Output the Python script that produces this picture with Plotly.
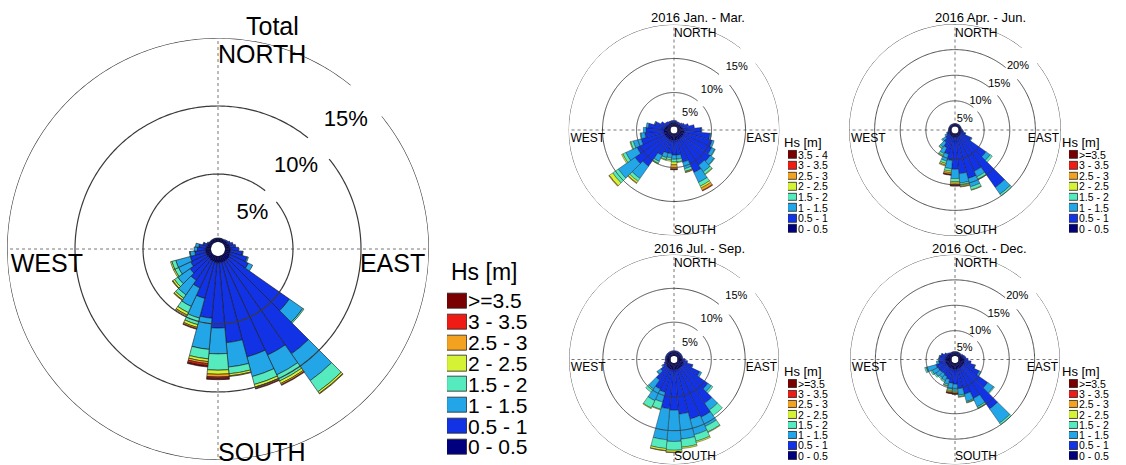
import numpy as np
import plotly.graph_objects as go

W, H = 1126, 465

# ---------------- data ----------------
DIRECTIONS = list(range(0, 360, 10))  # compass degrees, 10-degree sectors
HS_LABELS = ["0 - 0.5", "0.5 - 1", "1 - 1.5", "1.5 - 2", "2 - 2.5", "2.5 - 3", "3 - 3.5", ">=3.5"]
HS_LABELS_Q1 = ["0 - 0.5", "0.5 - 1", "1 - 1.5", "1.5 - 2", "2 - 2.5", "2.5 - 3", "3 - 3.5", "3.5 - 4"]
HS_COLORS = ["#00007F", "#1232E6", "#22A6E8", "#55EBBE", "#D6F234", "#F2A21E", "#EE1C14", "#7A0000"]

RINGS_15 = [5, 10, 15]
RINGS_20 = [5, 10, 15, 20]

# Total (percent of occurrence per 10-degree direction sector, per Hs class)
total_00_05 = [.25, .25, .25, .25, .25, .3, .3, .35, .35, .4, .4, .4, .45, .5, .5, .5, .5, .5, .5, .5, .45, .45, .4, .4, .4, .4, .4, .4, .35, .3, .3, .25, .25, .25, .25, .25]
total_05_10 = [.05, .05, .05, .05, .1, .1, .2, .3, .45, .6, .9, 1.3, 1.5, 5.4, 8.4, 7.6, 7.2, 5.9, 4.8, 4.1, 2.8, 2.2, 1.9, 1.6, 1.3, 1.2, .8, .6, .55, .3, .1, .05, .05, .05, .05, .05]
total_10_15 = [0, 0, 0, 0, 0, 0, 0, 0, 0, 0, .05, .1, .35, 1.2, 2.4, 1.6, 1.5, 1.8, 1.9, 2.3, 1.5, 1.5, 1.3, 1.1, 1.0, 1.1, .35, .25, .25, .05, 0, 0, 0, 0, 0, 0]
total_15_20 = [0, 0, 0, 0, 0, 0, 0, 0, 0, 0, 0, 0, 0, .1, 1.0, .5, .6, .5, 1.2, .7, .5, .5, .3, .3, .3, .3, .05, 0, 0, 0, 0, 0, 0, 0, 0, 0]
total_20_25 = [0, 0, 0, 0, 0, 0, 0, 0, 0, 0, 0, 0, 0, 0, .15, .2, .2, .15, .3, .2, .2, .2, .15, .15, .1, .1, 0, 0, 0, 0, 0, 0, 0, 0, 0, 0]
total_25_30 = [0, 0, 0, 0, 0, 0, 0, 0, 0, 0, 0, 0, 0, 0, .05, .1, .1, .05, .2, .15, .1, .1, .05, .05, 0, 0, 0, 0, 0, 0, 0, 0, 0, 0, 0, 0]
total_30_35 = [0, 0, 0, 0, 0, 0, 0, 0, 0, 0, 0, 0, 0, 0, 0, .05, .05, 0, .1, .15, .05, 0, 0, 0, 0, 0, 0, 0, 0, 0, 0, 0, 0, 0, 0, 0]
total_35_up = [0, 0, 0, 0, 0, 0, 0, 0, 0, 0, 0, 0, 0, 0, 0, 0, 0, 0, .1, .1, 0, 0, 0, 0, 0, 0, 0, 0, 0, 0, 0, 0, 0, 0, 0, 0]

# 2016 Jan. - Mar.
q1_00_05 = [.6, .6, .5, .5, .5, .6, .6, .7, .8, .9, 1, 1, 1, 1, 1, 1, 1, 1, 1, 1, 1, 1, 1, 1, 1, 1, 1, 1, .9, .8, .7, .6, .6, .6, .6, .6]
q1_05_10 = [.3, .3, .3, .3, .3, .4, .6, 1.0, 1.7, 2.6, 3.8, 4.3, 4.6, 5.0, 4.8, 5.4, 3.4, 2.2, 2.2, 2.0, 2.0, 2.6, 5.0, 5.5, 4.5, 3.5, 2.8, 2.6, 2.4, 1.6, .9, .5, .4, .3, .3, .3]
q1_10_15 = [0, 0, 0, 0, 0, 0, 0, 0, 0, .1, .2, .3, .5, .7, 1.2, 1.6, 1.0, .6, .6, .6, .7, 1.0, 2.2, 3.0, 1.8, 1.2, .6, .4, .3, .1, 0, 0, 0, 0, 0, 0]
q1_15_20 = [0, 0, 0, 0, 0, 0, 0, 0, 0, 0, 0, 0, .1, .1, .4, .6, .4, .4, .4, .3, .3, .3, .5, 1.0, .5, .4, .1, 0, 0, 0, 0, 0, 0, 0, 0, 0]
q1_20_25 = [0, 0, 0, 0, 0, 0, 0, 0, 0, 0, 0, 0, 0, 0, .1, .3, .1, .1, .4, .2, .1, .1, .3, .6, .2, .1, 0, 0, 0, 0, 0, 0, 0, 0, 0, 0]
q1_25_30 = [0, 0, 0, 0, 0, 0, 0, 0, 0, 0, 0, 0, 0, 0, 0, .4, .1, 0, .6, 0, 0, 0, .1, .1, 0, 0, 0, 0, 0, 0, 0, 0, 0, 0, 0, 0]
q1_30_35 = [0, 0, 0, 0, 0, 0, 0, 0, 0, 0, 0, 0, 0, 0, 0, .1, 0, 0, .1, 0, 0, 0, 0, 0, 0, 0, 0, 0, 0, 0, 0, 0, 0, 0, 0, 0]
q1_35_40 = [0, 0, 0, 0, 0, 0, 0, 0, 0, 0, 0, 0, 0, 0, 0, 0, 0, 0, .05, 0, 0, 0, 0, 0, 0, 0, 0, 0, 0, 0, 0, 0, 0, 0, 0, 0]

# 2016 Apr. - Jun.
q2_00_05 = [.4, .4, .4, .4, .4, .4, .4, .4, .4, .4, .5, .5, .6, .7, .7, .7, .7, .7, .7, .7, .7, .7, .6, .6, .5, .5, .4, .4, .4, .4, .4, .4, .4, .4, .4, .4]
q2_05_10 = [.2, .2, .2, .2, .2, .2, .2, .2, .2, .4, .5, .9, 2.2, 6.0, 12.3, 7.5, 8.4, 7.2, 6.3, 4.6, 3.5, 2.4, 1.7, 1.0, .6, .4, .3, .2, .2, .2, .2, .2, .2, .2, .2, .2]
q2_10_15 = [0, 0, 0, 0, 0, 0, 0, 0, 0, 0, 0, .1, .2, 1.0, 1.6, 1.2, 1.7, 1.8, 1.8, 1.6, 1.4, 1.3, 1.1, .7, .4, .1, 0, 0, 0, 0, 0, 0, 0, 0, 0, 0]
q2_15_20 = [0, 0, 0, 0, 0, 0, 0, 0, 0, 0, 0, 0, 0, .5, .4, .5, .6, .5, .6, .5, .5, .4, .3, .2, 0, 0, 0, 0, 0, 0, 0, 0, 0, 0, 0, 0]
q2_20_25 = [0, 0, 0, 0, 0, 0, 0, 0, 0, 0, 0, 0, 0, 0, 0, .1, .1, .2, .3, .3, .3, .2, .1, 0, 0, 0, 0, 0, 0, 0, 0, 0, 0, 0, 0, 0]
q2_25_30 = [0, 0, 0, 0, 0, 0, 0, 0, 0, 0, 0, 0, 0, 0, 0, 0, 0, .1, .3, .3, .2, 0, 0, 0, 0, 0, 0, 0, 0, 0, 0, 0, 0, 0, 0, 0]
q2_30_35 = [0, 0, 0, 0, 0, 0, 0, 0, 0, 0, 0, 0, 0, 0, 0, 0, 0, 0, .1, .1, 0, 0, 0, 0, 0, 0, 0, 0, 0, 0, 0, 0, 0, 0, 0, 0]
q2_35_up = [0, 0, 0, 0, 0, 0, 0, 0, 0, 0, 0, 0, 0, 0, 0, 0, 0, 0, .2, .1, 0, 0, 0, 0, 0, 0, 0, 0, 0, 0, 0, 0, 0, 0, 0, 0]

# 2016 Jul. - Sep.
q3_00_05 = [.6, .6, .6, .6, .6, .6, .6, .6, .6, .7, .8, .9, 1, 1, 1, 1, 1, 1, 1, 1, 1, 1, 1, .9, .8, .7, .6, .6, .6, .6, .6, .6, .6, .6, .6, .6]
q3_05_10 = [.2, .2, .2, .2, .2, .2, .2, .2, .2, .4, .7, 1.4, 2.7, 4.6, 6.4, 7.9, 7.6, 6.6, 6.0, 5.8, 3.5, 3.3, 2.2, 1.0, .5, .3, .2, .2, .2, .2, .2, .2, .2, .2, .2, .2]
q3_10_15 = [0, 0, 0, 0, 0, 0, 0, 0, 0, 0, 0, .1, .3, .6, 1.2, 1.5, 2.4, 3.7, 4.6, 4.6, 1.5, 1.9, 1.6, .6, .2, 0, 0, 0, 0, 0, 0, 0, 0, 0, 0, 0]
q3_15_20 = [0, 0, 0, 0, 0, 0, 0, 0, 0, 0, 0, 0, 0, .3, 1.0, .9, 1.0, 1.2, 1.3, 1.3, 1.1, 1.2, .6, .1, 0, 0, 0, 0, 0, 0, 0, 0, 0, 0, 0, 0]
q3_20_25 = [0, 0, 0, 0, 0, 0, 0, 0, 0, 0, 0, 0, 0, 0, 0, .1, .2, .2, .3, .3, .1, .1, 0, 0, 0, 0, 0, 0, 0, 0, 0, 0, 0, 0, 0, 0]
q3_25_30 = [0, 0, 0, 0, 0, 0, 0, 0, 0, 0, 0, 0, 0, 0, 0, 0, 0, 0, .05, .05, 0, 0, 0, 0, 0, 0, 0, 0, 0, 0, 0, 0, 0, 0, 0, 0]
q3_30_35 = [0] * 36
q3_35_up = [0] * 36

# 2016 Oct. - Dec.
q4_00_05 = [.7, .7, .7, .7, .7, .7, .8, .9, 1.0, 1.1, 1.2, 1.2, 1.2, 1.2, 1.2, 1.2, 1.2, 1.2, 1.2, 1.2, 1.2, 1.2, 1.2, 1.2, 1.2, 1.2, 1.2, 1.2, 1.2, 1.1, 1.0, .9, .8, .7, .7, .7]
q4_05_10 = [.2, .2, .2, .2, .2, .2, .3, .4, .5, .8, 1.3, 2.2, 3.4, 6.0, 10.0, 6.6, 5.2, 3.9, 3.0, 2.8, 2.2, 1.8, 1.6, 1.7, 1.8, 2.0, 1.3, 1.2, 1.2, 1.0, .6, .3, .2, .2, .2, .2]
q4_10_15 = [0, 0, 0, 0, 0, 0, 0, 0, 0, 0, 0, .1, .4, 1.4, 3.4, 1.8, 1.5, 1.3, 1.2, 1.2, 1.0, .9, .9, 1.1, 1.3, 2.0, .5, .2, .1, .1, 0, 0, 0, 0, 0, 0]
q4_15_20 = [0, 0, 0, 0, 0, 0, 0, 0, 0, 0, 0, 0, 0, .2, .4, .3, .2, .3, .3, .3, .3, .3, .3, .3, .3, .3, 0, 0, 0, 0, 0, 0, 0, 0, 0, 0]
q4_20_25 = [0, 0, 0, 0, 0, 0, 0, 0, 0, 0, 0, 0, 0, 0, 0, .1, .1, .1, .2, .2, .1, 0, 0, 0, 0, 0, 0, 0, 0, 0, 0, 0, 0, 0, 0, 0]
q4_25_30 = [0, 0, 0, 0, 0, 0, 0, 0, 0, 0, 0, 0, 0, 0, 0, 0, 0, 0, .1, .2, 0, 0, 0, 0, 0, 0, 0, 0, 0, 0, 0, 0, 0, 0, 0, 0]
q4_30_35 = [0, 0, 0, 0, 0, 0, 0, 0, 0, 0, 0, 0, 0, 0, 0, 0, 0, 0, .1, .1, 0, 0, 0, 0, 0, 0, 0, 0, 0, 0, 0, 0, 0, 0, 0, 0]
q4_35_up = [0, 0, 0, 0, 0, 0, 0, 0, 0, 0, 0, 0, 0, 0, 0, 0, 0, 0, .1, .1, 0, 0, 0, 0, 0, 0, 0, 0, 0, 0, 0, 0, 0, 0, 0, 0]

# ---------------- layout / style ----------------
FONT = "Liberation Sans, Arial, sans-serif"

ROSES = [
    dict(polar="polar", title="Total", classes=[total_00_05, total_05_10, total_10_15, total_15_20,
                                                 total_20_25, total_25_30, total_30_35, total_35_up],
         labels=HS_LABELS, rings=RINGS_15, center=(218, 249), R=211, lab_in=0.45, south_r=0.973,
         title_xy=(272, 26), title_size=25, dir_size=25, ring_size=22, ring_w=1.2, edge_w=0.6,
         leg_title_xy=(449, 272), leg_title_size=23, leg_x=(447, 467), leg_rows=(301, 447), leg_size=21),
    dict(polar="polar2", title="2016 Jan. - Mar.", classes=[q1_00_05, q1_05_10, q1_10_15, q1_15_20,
                                                            q1_20_25, q1_25_30, q1_30_35, q1_35_40],
         labels=HS_LABELS_Q1, rings=RINGS_15, center=(674, 130), R=105.5, lab_in=0.7, south_r=0.955,
         title_xy=(698, 18), title_size=13, dir_size=12, ring_size=11, ring_w=0.9, edge_w=0.4,
         leg_title_xy=(782, 142), leg_title_size=13, leg_x=(788, 797), leg_rows=(155, 229), leg_size=10.5),
    dict(polar="polar3", title="2016 Apr. - Jun.", classes=[q2_00_05, q2_05_10, q2_10_15, q2_15_20,
                                                            q2_20_25, q2_25_30, q2_30_35, q2_35_up],
         labels=HS_LABELS, rings=RINGS_20, center=(955, 130), R=106, lab_in=0.95, south_r=0.955,
         title_xy=(980, 18), title_size=13, dir_size=12, ring_size=11, ring_w=0.9, edge_w=0.4,
         leg_title_xy=(1060, 142), leg_title_size=13, leg_x=(1069, 1078), leg_rows=(155, 229), leg_size=10.5),
    dict(polar="polar4", title="2016 Jul. - Sep.", classes=[q3_00_05, q3_05_10, q3_10_15, q3_15_20,
                                                            q3_20_25, q3_25_30, q3_30_35, q3_35_up],
         labels=HS_LABELS, rings=RINGS_15, center=(674, 359.5), R=105, lab_in=0.7, south_r=0.93,
         title_xy=(699, 248), title_size=13, dir_size=12, ring_size=11, ring_w=0.9, edge_w=0.4,
         leg_title_xy=(782, 371), leg_title_size=13, leg_x=(788, 797), leg_rows=(384, 456), leg_size=10.5),
    dict(polar="polar5", title="2016 Oct. - Dec.", classes=[q4_00_05, q4_05_10, q4_10_15, q4_15_20,
                                                            q4_20_25, q4_25_30, q4_30_35, q4_35_up],
         labels=HS_LABELS, rings=RINGS_20, center=(955, 359.5), R=105, lab_in=0.95, south_r=0.93,
         title_xy=(979, 248), title_size=13, dir_size=12, ring_size=11, ring_w=0.9, edge_w=0.4,
         leg_title_xy=(1060, 371), leg_title_size=13, leg_x=(1069, 1078), leg_rows=(384, 456), leg_size=10.5),
]

HOLE = 0.033
GAP = (39, 51)     # ring gap (compass degrees) where the % labels sit
LABEL_THETA = 47   # direction of the % labels


def px_x(v):
    return v / W


def px_y(v):
    return 1 - v / H


fig = go.Figure()
layout_updates = {}
annotations = []

for i, rose in enumerate(ROSES):
    sp = rose["polar"]
    rmax = rose["rings"][-1]
    cx, cy = rose["center"]
    R = rose["R"]

    # grid rings with a small gap at the label position
    ring_theta = np.linspace(GAP[1], GAP[0] + 360, 400)
    for p in rose["rings"]:
        fig.add_trace(go.Scatterpolar(
            r=np.full(ring_theta.shape, p), theta=ring_theta, mode="lines",
            line=dict(color="#3a3a3a", width=rose["ring_w"]),
            subplot=sp, showlegend=False, hoverinfo="skip"))

    # stacked bars per Hs class (empty sectors skipped so no zero-length outlines are drawn)
    for k, vals in enumerate(rose["classes"]):
        th = [d for d, v in zip(DIRECTIONS, vals) if v > 0]
        rv = [v for v in vals if v > 0]
        if not rv:
            continue
        fig.add_trace(go.Barpolar(
            r=rv, theta=th, width=[10] * len(th),
            marker=dict(color=HS_COLORS[k], line=dict(color="#1a1a1a", width=rose["edge_w"])),
            name=rose["labels"][k], subplot=sp, showlegend=False))

    # radial % labels
    fig.add_trace(go.Scatterpolar(
        r=[p - rose["lab_in"] for p in rose["rings"]], theta=[LABEL_THETA] * len(rose["rings"]),
        text=[f"{p}%" for p in rose["rings"]], mode="text", textposition="bottom left",
        textfont=dict(family=FONT, size=rose["ring_size"], color="black"),
        subplot=sp, showlegend=False, hoverinfo="skip"))

    # compass labels
    fig.add_trace(go.Scatterpolar(
        r=[0.907 * rmax, rose["south_r"] * rmax, 0.985 * rmax, 0.985 * rmax],
        theta=[0, 180, 265.3, 94.7],
        text=["NORTH", "SOUTH", "WEST", "EAST"], mode="text",
        textposition=["middle right", "middle right", "middle right", "middle left"],
        textfont=dict(family=FONT, size=rose["dir_size"], color="black"),
        subplot=sp, showlegend=False, hoverinfo="skip"))

    layout_updates[sp] = dict(
        domain=dict(x=[max(0, px_x(cx - R)), min(1, px_x(cx + R))],
                    y=[max(0, px_y(cy + R)), min(1, px_y(cy - R))]),
        hole=HOLE, bgcolor="white", barmode="stack", bargap=0,
        radialaxis=dict(range=[0, rmax], showgrid=False, showline=False, showticklabels=False,
                        ticks="", layer="below traces"),
        angularaxis=dict(rotation=90, direction="clockwise", tickvals=[0, 90, 180, 270],
                         showgrid=True, griddash="dot", gridcolor="#777", gridwidth=1,
                         showline=False, showticklabels=False, ticks="", layer="below traces"),
    )

    # legend drawn as a small categorical bar panel
    xa = "xaxis" if i == 0 else f"xaxis{i + 1}"
    ya = "yaxis" if i == 0 else f"yaxis{i + 1}"
    xref = "x" if i == 0 else f"x{i + 1}"
    yref = "y" if i == 0 else f"y{i + 1}"
    n = len(rose["labels"])
    r0, r1 = rose["leg_rows"]
    step = (r1 - r0) / (n - 1)
    fig.add_trace(go.Bar(
        x=[1] * n, y=list(range(n)), orientation="h", width=0.72,
        marker=dict(color=HS_COLORS, line=dict(color="#222", width=0.8)),
        xaxis=xref, yaxis=yref, showlegend=False, hoverinfo="skip"))
    layout_updates[xa] = dict(domain=[px_x(rose["leg_x"][0]), px_x(rose["leg_x"][1])],
                              range=[0, 1], visible=False, fixedrange=True)
    layout_updates[ya] = dict(domain=[px_y(r1 + step / 2), px_y(r0 - step / 2)],
                              range=[-0.5, n - 0.5], side="right", anchor=xref,
                              tickvals=list(range(n)), ticktext=rose["labels"],
                              showgrid=False, zeroline=False, showline=False, ticks="",
                              tickfont=dict(family=FONT, size=rose["leg_size"], color="black"),
                              fixedrange=True, automargin=False)

    annotations.append(dict(text=rose["title"], x=px_x(rose["title_xy"][0]), y=px_y(rose["title_xy"][1]),
                            xref="paper", yref="paper", showarrow=False, xanchor="center", yanchor="middle",
                            font=dict(family=FONT, size=rose["title_size"], color="black")))
    annotations.append(dict(text="Hs [m]", x=px_x(rose["leg_title_xy"][0]), y=px_y(rose["leg_title_xy"][1]),
                            xref="paper", yref="paper", showarrow=False, xanchor="left", yanchor="middle",
                            font=dict(family=FONT, size=rose["leg_title_size"], color="black")))

fig.update_layout(
    width=W, height=H, margin=dict(l=0, r=0, t=0, b=0),
    paper_bgcolor="white", plot_bgcolor="white",
    showlegend=False, annotations=annotations, bargap=0,
    **layout_updates,
)

fig.write_html("out.html", config={"displayModeBar": False},
               post_script="document.body.style.margin='0';document.body.style.overflow='hidden';")
